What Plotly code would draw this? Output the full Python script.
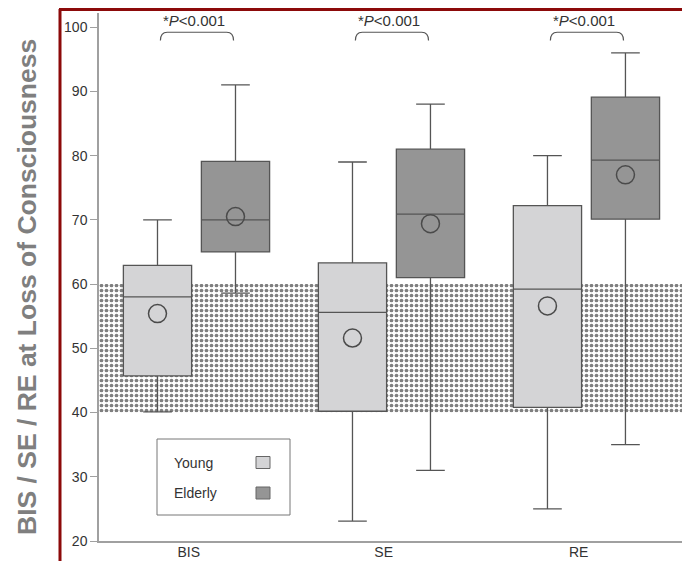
import plotly.graph_objects as go

# ---------------- data ----------------
categories = ["BIS", "SE", "RE"]

young_low = [40.1, 23.1, 25.0]
young_q1 = [45.7, 40.2, 40.8]
young_median = [58.0, 55.6, 59.2]
young_q3 = [62.9, 63.3, 72.2]
young_high = [70.0, 79.0, 80.0]
young_mean = [55.4, 51.6, 56.6]

elderly_low = [58.6, 31.0, 35.0]
elderly_q1 = [65.0, 61.0, 70.1]
elderly_median = [70.0, 70.9, 79.3]
elderly_q3 = [79.1, 81.0, 89.1]
elderly_high = [91.0, 88.0, 96.0]
elderly_mean = [70.5, 69.4, 77.0]

band_low, band_high = 40, 60
y_ticks = [20, 30, 40, 50, 60, 70, 80, 90, 100]
p_text = "*<i>P</i>&lt;0.001"
y_title = "BIS / SE / RE at Loss of Consciousness"
legend_names = ["Young", "Elderly"]

# ---------------- layout constants ----------------
W, H = 682, 561
PX_L, PX_R, PX_T, PX_B = 99, 682, 13, 541
X_RANGE = [-0.5, 2.49]
Y_RANGE = [20, 102.2]
OFF = 0.2
BOX_W = 0.35
YOUNG_FILL = "#d4d4d6"
ELDER_FILL = "#959595"
LINE_C = "#555555"
FONT = "Arial, Liberation Sans, Helvetica, sans-serif"


def px_x(p):
    return (p - PX_L) / (PX_R - PX_L)


def px_y(p):
    return (PX_B - p) / (PX_B - PX_T)


idx = list(range(len(categories)))
xy = [i - OFF for i in idx]
xe = [i + OFF for i in idx]

fig = go.Figure()

# stippled reference band (bar layer sits beneath the boxes)
fig.add_trace(go.Bar(
    x=[(X_RANGE[0] + X_RANGE[1]) / 2], width=[X_RANGE[1] - X_RANGE[0]],
    base=[band_low], y=[band_high - band_low],
    marker=dict(color="white", line=dict(width=0),
                pattern=dict(shape=".", fgcolor="#000000", bgcolor="white",
                             size=5, solidity=0.44, fillmode="overlay")),
    showlegend=False, hoverinfo="skip",
))

fig.add_trace(go.Box(
    x=xy, q1=young_q1, median=young_median, q3=young_q3,
    lowerfence=young_low, upperfence=young_high,
    width=BOX_W, whiskerwidth=0.42, fillcolor=YOUNG_FILL,
    line=dict(color=LINE_C, width=1.3), boxpoints=False,
    name=legend_names[0], showlegend=False,
))
fig.add_trace(go.Box(
    x=xe, q1=elderly_q1, median=elderly_median, q3=elderly_q3,
    lowerfence=elderly_low, upperfence=elderly_high,
    width=BOX_W, whiskerwidth=0.42, fillcolor=ELDER_FILL,
    line=dict(color=LINE_C, width=1.3), boxpoints=False,
    name=legend_names[1], showlegend=False,
))

# means as open circles
fig.add_trace(go.Scatter(
    x=xy + xe, y=young_mean + elderly_mean, mode="markers",
    marker=dict(symbol="circle-open", size=18, color="#4a4a4a",
                line=dict(width=1.5, color="#4a4a4a")),
    showlegend=False, hoverinfo="skip", cliponaxis=False,
))

shapes = []
annotations = []

# significance brackets
b_top, b_end, r = 99.2, 97.9, 0.035
for i in idx:
    x0, x1 = i - OFF + 0.015, i + OFF - 0.01
    path = (f"M {x0},{b_end} Q {x0},{b_top} {x0 + r},{b_top} "
            f"L {x1 - r},{b_top} Q {x1},{b_top} {x1},{b_end}")
    shapes.append(dict(type="path", path=path, xref="x", yref="y",
                       line=dict(color="#555555", width=1.2)))
    annotations.append(dict(x=i - 0.015, y=101.1, xref="x", yref="y",
                            text=p_text, showarrow=False,
                            xanchor="center", yanchor="middle",
                            font=dict(size=15, color="#333333", family=FONT)))

# y axis title
annotations.append(dict(x=px_x(27), y=px_y(287), xref="paper", yref="paper",
                        text=f"<b>{y_title}</b>", textangle=-90, showarrow=False,
                        xanchor="center", yanchor="middle",
                        font=dict(size=26.5, color="#7f7f7f", family=FONT)))

# red frame
red = "#8c0a0a"
shapes.append(dict(type="line", xref="paper", yref="paper",
                   x0=px_x(60), x1=px_x(60), y0=px_y(9), y1=px_y(561),
                   line=dict(color=red, width=3)))
shapes.append(dict(type="line", xref="paper", yref="paper",
                   x0=px_x(59), x1=px_x(682), y0=px_y(9.5), y1=px_y(9.5),
                   line=dict(color=red, width=3)))

# custom legend box
shapes.append(dict(type="rect", xref="paper", yref="paper",
                   x0=px_x(157), x1=px_x(290), y0=px_y(515), y1=px_y(439),
                   line=dict(color="#777777", width=1), fillcolor="white"))
for name, fill, cy in zip(legend_names, [YOUNG_FILL, ELDER_FILL], [462.5, 493]):
    annotations.append(dict(x=px_x(172), y=px_y(cy), xref="paper", yref="paper",
                            text=name, showarrow=False, xanchor="left",
                            yanchor="middle",
                            font=dict(size=14, color="#333333", family=FONT)))
    shapes.append(dict(type="rect", xref="paper", yref="paper",
                       x0=px_x(256), x1=px_x(270), y0=px_y(cy + 6), y1=px_y(cy - 6),
                       line=dict(color="#666666", width=1), fillcolor=fill))

fig.update_layout(
    width=W, height=H,
    margin=dict(l=PX_L, r=W - PX_R, t=PX_T, b=H - PX_B, pad=0),
    paper_bgcolor="white", plot_bgcolor="white",
    showlegend=False, shapes=shapes, annotations=annotations,
    font=dict(family=FONT, color="#333333", size=14),
    barmode="overlay", boxmode="overlay",
    xaxis=dict(range=X_RANGE, tickvals=[i - 0.04 for i in idx], ticktext=categories,
               showgrid=False, zeroline=False, showline=True, linecolor="#a0a0a0",
               linewidth=1.5, ticks="", ticklabelstandoff=-3,
               tickfont=dict(size=14, color="#333333"), automargin=False),
    yaxis=dict(range=Y_RANGE, tickvals=y_ticks, showgrid=False, zeroline=False,
               showline=True, linecolor="#a0a0a0", linewidth=1.5, ticks="outside",
               ticklen=7, tickcolor="#a0a0a0", tickwidth=1.2,
               tickfont=dict(size=14, color="#333333"), automargin=False),
)

fig.write_html("out.html")
